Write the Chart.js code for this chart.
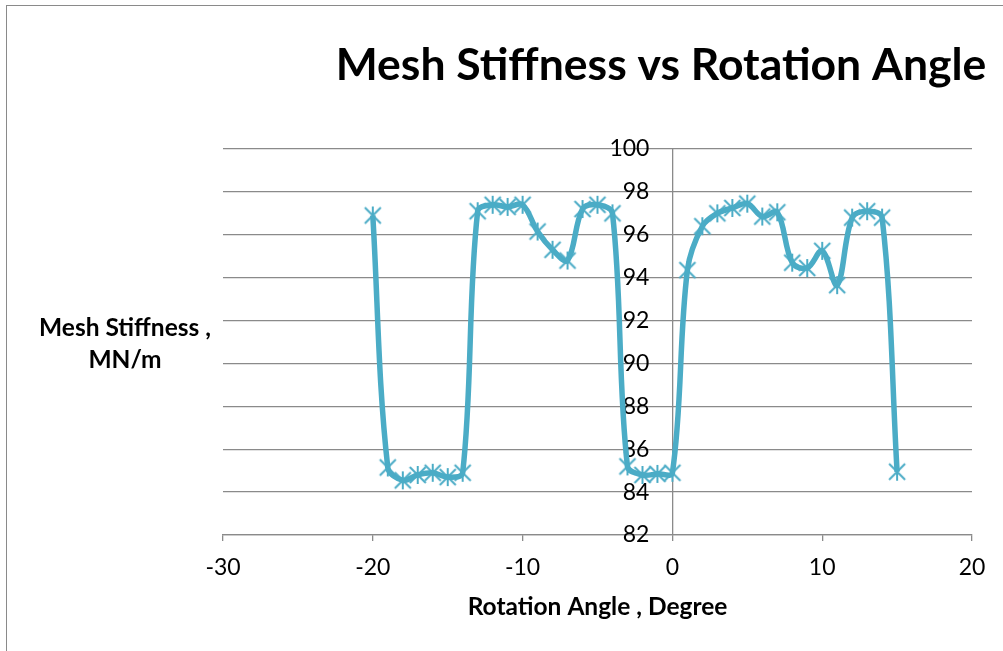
<!DOCTYPE html>
<html>
<head>
<meta charset="utf-8">
<script src="https://cdn.jsdelivr.net/npm/chart.js@4"></script>
<style>
  html, body { margin: 0; padding: 0; background: #fff; overflow: hidden; }
  #wrap { position: relative; width: 1003px; height: 651px; }
  #frame { position: absolute; left: 6px; top: 5px; width: 1100px; height: 800px; border: 1.5px solid #8a8a8a; box-sizing: border-box; }
  canvas { position: absolute; left: 0; top: 0; }
</style>
</head>
<body>
<div id="wrap">
  <div id="frame"></div>
  <canvas id="grafico" width="1003" height="651"></canvas>
</div>
<script>
// valores
const angulos = [-20, -19, -18, -17, -16, -15, -14, -13, -12, -11, -10, -9, -8, -7, -6, -5, -4, -3, -2, -1,
                 0, 1, 2, 3, 4, 5, 6, 7, 8, 9, 10, 11, 12, 13, 14, 15];
const rigidez = [96.9, 85.15, 84.55, 84.8, 84.9, 84.7, 84.9, 97.1, 97.4, 97.3, 97.4, 96.15, 95.3, 94.8, 97.2, 97.4, 97.0, 85.2, 84.8, 84.85,
                 84.9, 94.35, 96.4, 97.0, 97.25, 97.45, 96.85, 97.05, 94.7, 94.45, 95.25, 93.65, 96.8, 97.1, 96.8, 84.95];
const xTicks = [-30, -20, -10, 0, 10, 20];
const yTicks = [82, 84, 86, 88, 90, 92, 94, 96, 98, 100];

const titulo = 'Mesh Stiffness vs Rotation Angle';
const tituloY = ['Mesh Stiffness ,', 'MN/m'];
const tituloX = 'Rotation Angle , Degree';

const azul = '#4BACC6';
const gris = '#8a8a8a';

// marcador tipo estrella de Excel (X con barra vertical)
const marcador = document.createElement('canvas');
marcador.width = 20; marcador.height = 20;
(() => {
  const c = marcador.getContext('2d');
  c.strokeStyle = azul;
  c.lineWidth = 2;
  c.beginPath();
  c.moveTo(2, 2); c.lineTo(18, 18);
  c.moveTo(18, 2); c.lineTo(2, 18);
  c.moveTo(10, 1); c.lineTo(10, 19);
  c.stroke();
})();

const textos = {
  id: 'textos',
  afterDraw(chart) {
    const ctx = chart.ctx;
    ctx.save();
    ctx.fillStyle = '#000';
    ctx.textAlign = 'center';
    ctx.textBaseline = 'middle';
    ctx.font = 'bold 44.5px Lato';
    ctx.fillText(titulo, 661, 66);
    ctx.font = 'bold 24.5px Lato';
    ctx.fillText(tituloY[0], 125, 328);
    ctx.fillText(tituloY[1], 125, 360);
    ctx.restore();
  }
};

Chart.defaults.font.family = 'Lato';
Chart.defaults.color = '#000';

new Chart(document.getElementById('grafico'), {
  type: 'line',
  data: {
    datasets: [{
      data: angulos.map((a, i) => ({ x: a, y: rigidez[i] })),
      borderColor: azul,
      backgroundColor: azul,
      borderWidth: 5.5,
      tension: 0.35,
      pointStyle: marcador,
      pointRadius: 10,
      pointHoverRadius: 10
    }]
  },
  options: {
    responsive: false,
    animation: false,
    layout: { padding: { left: 223, right: 31, top: 149, bottom: 0 } },
    plugins: { legend: { display: false }, tooltip: { enabled: false } },
    scales: {
      x: {
        type: 'linear',
        min: -30, max: 20,
        afterBuildTicks: s => { s.ticks = xTicks.map(v => ({ value: v })); },
        afterFit: s => { s.height = 116; },
        grid: { drawOnChartArea: false, drawTicks: true, tickLength: 6, color: gris, lineWidth: 1.3 },
        border: { color: gris, width: 1.3 },
        ticks: { font: { size: 23 }, padding: 13, maxRotation: 0 },
        title: { display: true, text: tituloX, font: { size: 24.5, weight: 'bold' }, padding: { top: 0, bottom: 29 } }
      },
      y: {
        type: 'linear',
        position: { x: 0 },
        min: 82, max: 100,
        afterBuildTicks: s => { s.ticks = yTicks.map(v => ({ value: v })); },
        grid: { color: gris, lineWidth: 1.3, drawTicks: false, tickLength: 0 },
        border: { color: gris, width: 1.3 },
        ticks: { font: { size: 23 }, callback: v => v + '\u2002\u2002' }
      }
    }
  },
  plugins: [textos]
});
</script>
</body>
</html>
